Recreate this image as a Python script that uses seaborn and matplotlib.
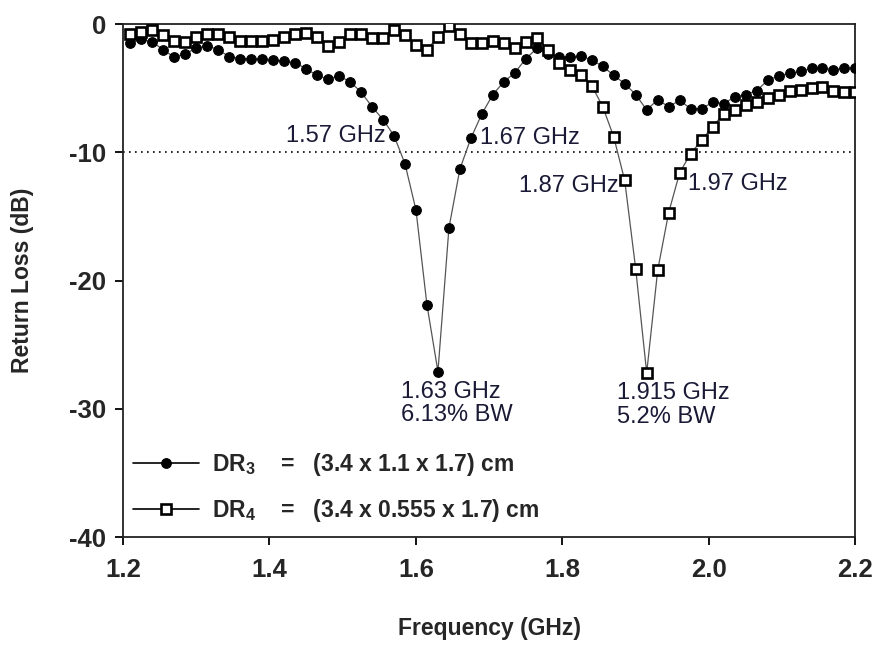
import pandas as pd
import seaborn as sns
import matplotlib.pyplot as plt

# Datos (frecuencia en GHz, perdida de retorno en dB)

freq = [1.21, 1.225, 1.24, 1.255, 1.27, 1.285, 1.3, 1.315, 1.33, 1.345,
        1.36, 1.375, 1.39, 1.405, 1.42, 1.435, 1.45, 1.465, 1.48, 1.495,
        1.51, 1.525, 1.54, 1.555, 1.57, 1.585, 1.6, 1.615, 1.63, 1.645,
        1.66, 1.675, 1.69, 1.705, 1.72, 1.735, 1.75, 1.765, 1.78, 1.795,
        1.81, 1.825, 1.84, 1.855, 1.87, 1.885, 1.9, 1.915, 1.93, 1.945,
        1.96, 1.975, 1.99, 2.005, 2.02, 2.035, 2.05, 2.065, 2.08, 2.095,
        2.11, 2.125, 2.14, 2.155, 2.17, 2.185, 2.2]

dr3 = [-1.5, -1.2, -1.4, -2.0, -2.6, -2.3, -1.9, -1.7, -2.0, -2.55,
       -2.7, -2.7, -2.75, -2.8, -2.9, -3.0, -3.5, -4.0, -4.3, -4.05,
       -4.5, -5.3, -6.45, -7.45, -8.7, -10.9, -14.5, -21.9, -27.1, -15.9,
       -11.3, -8.9, -7.0, -5.5, -4.5, -3.8, -2.7, -1.9, -2.3, -2.55,
       -2.55, -2.5, -2.8, -3.3, -4.0, -4.65, -5.5, -6.7, -5.9, -6.45,
       -5.95, -6.6, -6.6, -6.1, -6.2, -5.7, -5.5, -5.2, -4.4, -4.05,
       -3.85, -3.7, -3.45, -3.45, -3.55, -3.45, -3.45]

dr4 = [-0.75, -0.6, -0.5, -0.85, -1.3, -1.4, -1.05, -0.75, -0.8, -1.05,
       -1.3, -1.3, -1.3, -1.25, -1.0, -0.75, -0.7, -1.05, -1.7, -1.4,
       -0.8, -0.75, -1.1, -1.1, -0.45, -0.85, -1.65, -2.0, -1.0, -0.15,
       -0.75, -1.45, -1.45, -1.3, -1.5, -1.9, -1.4, -1.1, -2.0, -3.05,
       -3.6, -3.95, -4.8, -6.45, -8.8, -12.2, -19.1, -27.2, -19.2, -14.7,
       -11.6, -10.1, -9.06, -8.0, -7.0, -6.7, -6.3, -6.05, -5.8, -5.5,
       -5.2, -5.15, -4.95, -4.9, -5.2, -5.3, -5.3]

label_dr3 = r"DR$_\mathbf{3}$    =   (3.4 x 1.1 x 1.7) cm"
label_dr4 = r"DR$_\mathbf{4}$    =   (3.4 x 0.555 x 1.7) cm"

# Notas de ancho de banda
notas = [
    ("1.57 GHz", 1.558, -8.75, "right", "center"),
    ("1.67 GHz", 1.688, -8.9, "left", "center"),
    ("1.87 GHz", 1.877, -12.6, "right", "center"),
    ("1.97 GHz", 1.971, -12.5, "left", "center"),
    ("1.63 GHz\n6.13% BW", 1.579, -27.8, "left", "top"),
    ("1.915 GHz\n5.2% BW", 1.875, -27.9, "left", "top"),
]

df = pd.DataFrame({"freq": freq, "dr3": dr3, "dr4": dr4})

sns.set_style("ticks")
plt.rcParams["font.family"] = ["Liberation Sans", "DejaVu Sans"]
plt.rcParams["mathtext.fontset"] = "custom"
plt.rcParams["mathtext.rm"] = "Liberation Sans"
plt.rcParams["mathtext.bf"] = "Liberation Sans:bold"
plt.rcParams["axes.unicode_minus"] = False

fig = plt.figure(figsize=(8.81, 6.46), dpi=100)
ax = fig.add_axes([0.1396, 0.1687, 0.8314, 0.7941])

# Linea de -10 dB
ax.axhline(-10, color="black", lw=1.2, linestyle=(0, (1, 2.6)), zorder=1)

sns.lineplot(data=df, x="freq", y="dr3", ax=ax, color="#555555", lw=0.9,
             marker="o", markersize=7, markerfacecolor="black",
             markeredgecolor="black", label=label_dr3, zorder=3)
sns.lineplot(data=df, x="freq", y="dr4", ax=ax, color="#555555", lw=0.9,
             marker="s", markersize=7.2, markerfacecolor="white",
             markeredgecolor="black", markeredgewidth=1.9, label=label_dr4,
             zorder=4)

for txt, x, y, ha, va in notas:
    ax.text(x, y, txt, ha=ha, va=va, fontsize=17, color="#1a1a36",
            linespacing=1.1, zorder=5)

ax.set_xlim(1.2, 2.2)
ax.set_ylim(-40, 0)
ax.set_xticks([1.2, 1.4, 1.6, 1.8, 2.0, 2.2])
ax.set_xticklabels(["1.2", "1.4", "1.6", "1.8", "2.0", "2.2"])
ax.set_yticks([0, -10, -20, -30, -40])

for lab in ax.get_xticklabels() + ax.get_yticklabels():
    lab.set_fontweight("bold")
    lab.set_fontsize(18.5)

ax.tick_params(axis="both", direction="out", length=6, width=1.3, color="black")
ax.tick_params(axis="x", pad=9)
ax.tick_params(axis="y", pad=6)

for s in ax.spines.values():
    s.set_visible(True)
    s.set_color("#222222")
    s.set_linewidth(1.3)

ax.set_xlabel("Frequency (GHz)", fontsize=16.5, fontweight="bold")
ax.set_ylabel("Return Loss (dB)", fontsize=16.5, fontweight="bold")
ax.xaxis.set_label_coords(0.5, -0.156)
ax.yaxis.set_label_coords(-0.121, 0.5)

# Leyenda
leg = ax.legend(loc="upper left", bbox_to_anchor=(0.014, 0.167), frameon=False,
                borderpad=0, borderaxespad=0, handlelength=2.85,
                handletextpad=0.6, labelspacing=0.8,
                prop={"weight": "bold", "size": 16.5})
for h in leg.legend_handles:
    h.set_color("black")
    h.set_linewidth(1.2)

fig.savefig("out.png", dpi=100)
